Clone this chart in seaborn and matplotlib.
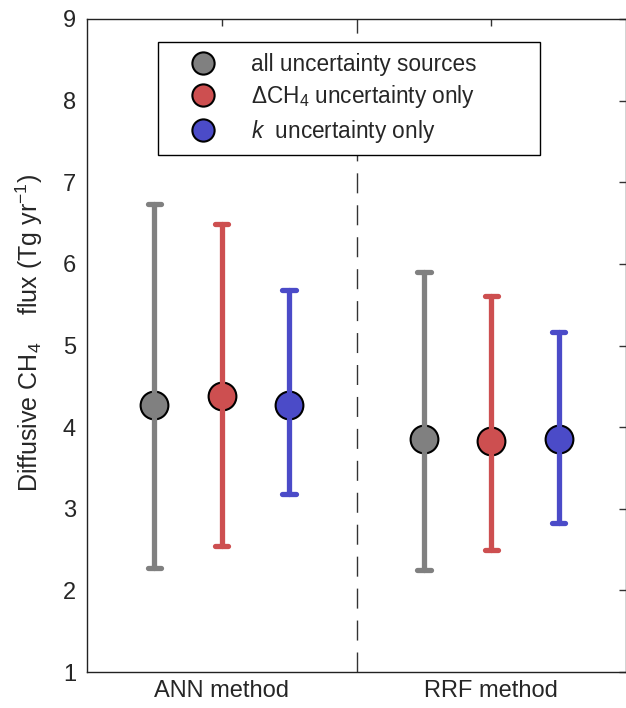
import numpy as np
import pandas as pd
import matplotlib
matplotlib.use("Agg")
import matplotlib.pyplot as plt
from matplotlib.lines import Line2D
from matplotlib.patches import Rectangle
import seaborn as sns

methods = ["ANN method", "RRF method"]
sources = ["all uncertainty sources", "ΔCH$_4$ uncertainty only", "$k$  uncertainty only"]
colors = ["#808080", "#CD4F50", "#4B4BC8"]

# central estimates, lower and upper bounds (rows: methods; cols: sources)
center = [[4.27, 4.38, 4.27],
          [3.85, 3.83, 3.85]]
lower = [[2.27, 2.55, 3.18],
         [2.25, 2.50, 2.82]]
upper = [[6.73, 6.49, 5.68],
         [5.90, 5.61, 5.16]]

rows = []
for i, m in enumerate(methods):
    for j, s in enumerate(sources):
        for v in (lower[i][j], center[i][j], upper[i][j]):
            rows.append({"method": m, "source": s, "value": v})
df = pd.DataFrame(rows)

sns.set_style("white")
plt.rcParams["font.family"] = ["Liberation Sans", "DejaVu Sans"]
plt.rcParams["mathtext.fontset"] = "custom"
plt.rcParams["mathtext.rm"] = "Liberation Sans"
plt.rcParams["mathtext.it"] = "Liberation Sans:italic"

fig = plt.figure(figsize=(6.26, 7.08), dpi=100)
ax = fig.add_axes([0.139, 0.0508, 0.861, 0.9224])

sns.pointplot(data=df, x="method", y="value", hue="source", hue_order=sources,
              order=methods, palette=colors, estimator="median",
              errorbar=lambda v: (v.min(), v.max()), dodge=0.5,
              markers="o", linestyles="none", capsize=0.05,
              err_kws={"linewidth": 3.8}, markersize=20,
              markeredgecolor="black", markeredgewidth=1.5,
              legend=False, ax=ax)

ax.axvline(0.5, color="#333333", lw=1.0, dashes=(14.4, 8.6), zorder=0)

ax.set_xlim(-0.5, 1.5)
ax.set_ylim(1, 9)
ax.set_yticks(range(1, 10))
ax.set_xlabel("")
ax.set_ylabel("Diffusive CH$_4$    flux (Tg yr$^{-1}$)", fontsize=18)
ax.yaxis.set_label_coords(-0.078, 0.52)
ax.tick_params(axis="both", direction="in", length=5, width=1, top=True, right=True,
               labelsize=17, color="#333333", pad=8)
ax.tick_params(axis="x", labelsize=17, pad=6)
for sp in ax.spines.values():
    sp.set_visible(True)
    sp.set_color("#222222")
    sp.set_linewidth(1.0)

# legend frame
ax.add_patch(Rectangle((0.1317, 0.7917), 0.7087, 0.1731, transform=ax.transAxes,
                       facecolor="white", edgecolor="black", lw=1.0, zorder=5))
handles = [Line2D([], [], ls="none", marker="o", markersize=16, markerfacecolor=c,
                  markeredgecolor="black", markeredgewidth=1.5) for c in colors]
leg = ax.legend(handles, sources, loc="center left", bbox_to_anchor=(0.1948, 0.878),
                frameon=False, fontsize=16.3, handletextpad=1.62, labelspacing=0.33,
                borderpad=0, handlelength=1.0, borderaxespad=0)
leg.set_zorder(6)

fig.savefig("out.png", dpi=100)
